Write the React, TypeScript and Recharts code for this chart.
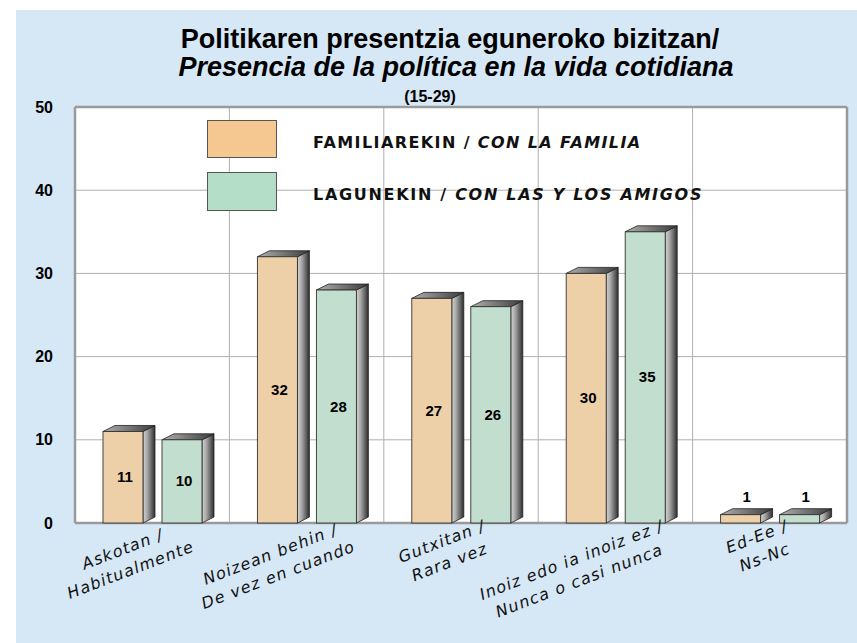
import React from "react";
import {
  BarChart,
  Bar,
  XAxis,
  YAxis,
  CartesianGrid,
  LabelList,
} from "recharts";

// categories (two lines each: Basque / Spanish)
const labelTop = ["Askotan /", "Noizean behin /", "Gutxitan /", "Inoiz edo ia inoiz ez /", "Ed-Ee /"];
const labelBottom = ["Habitualmente", "De vez en cuando", "Rara vez", "Nunca o casi nunca", "Ns-Nc"];
const familia = [11, 32, 27, 30, 1];
const lagunak = [10, 28, 26, 35, 1];
const yTicks = [0, 10, 20, 30, 40, 50];

const data = labelTop.map((t, i) => ({
  cat: t + " " + labelBottom[i],
  familia: familia[i],
  lagunak: lagunak[i],
}));

const DX = 12;
const DY = 6;
const LABEL_FONT = "italic 16px 'DejaVu Sans'";
const LABEL_SPACING = 1.2;

let ctx: CanvasRenderingContext2D | null = null;
function measure(s: string) {
  if (!ctx) ctx = document.createElement("canvas").getContext("2d");
  if (!ctx) return s.length * 9;
  ctx.font = LABEL_FONT;
  return ctx.measureText(s).width + s.length * LABEL_SPACING;
}

function Bar3D(props: any) {
  const { x, y, width, height, fill, index, dataKey } = props;
  if (width == null || height == null) return null;
  const id = `${dataKey}-${index}`;
  return (
    <g>
      <defs>
        <linearGradient id={`side-${id}`} x1="0" y1="0" x2="1" y2="0">
          <stop offset="0%" stopColor="#d4d4d4" />
          <stop offset="35%" stopColor="#a8a8a8" />
          <stop offset="100%" stopColor="#2e2e2e" />
        </linearGradient>
        <linearGradient id={`top-${id}`} x1="0" y1="0" x2="1" y2="0">
          <stop offset="0%" stopColor="#b0b0b0" />
          <stop offset="100%" stopColor="#3c3c3c" />
        </linearGradient>
      </defs>
      <polygon
        points={`${x + width},${y} ${x + width + DX},${y - DY} ${x + width + DX},${y + height - DY} ${x + width},${y + height}`}
        fill={`url(#side-${id})`}
        stroke="#222"
        strokeWidth={0.8}
      />
      <polygon
        points={`${x},${y} ${x + DX},${y - DY} ${x + width + DX},${y - DY} ${x + width},${y}`}
        fill={`url(#top-${id})`}
        stroke="#222"
        strokeWidth={0.8}
      />
      <rect x={x} y={y} width={width} height={height} fill={fill} stroke="#333" strokeWidth={0.9} />
    </g>
  );
}

function ValueLabel(props: any) {
  const { x, y, width, height, value } = props;
  if (value == null) return null;
  const inside = value >= 5;
  const tx = inside ? x + width / 2 + 2 : x + (width + DX) / 2;
  const ty = inside ? y + height / 2 + 5 : y - DY - 7;
  return (
    <text
      x={tx}
      y={ty}
      textAnchor="middle"
      fontFamily="'Liberation Sans', Arial, sans-serif"
      fontWeight="bold"
      fontSize={15}
      fill="#000"
    >
      {value}
    </text>
  );
}

function XTick(props: any) {
  const { x, y, payload } = props;
  const i = payload?.index ?? 0;
  const l1 = labelTop[i];
  const l2 = labelBottom[i];
  const w = Math.max(measure(l1), measure(l2));
  const ax = x + 0.23 * w;
  const ay = y - 4;
  const common = {
    textAnchor: "middle" as const,
    fontFamily: "'DejaVu Sans', sans-serif",
    fontStyle: "italic",
    fontSize: 16,
    letterSpacing: LABEL_SPACING,
    fill: "#111",
  };
  return (
    <g transform={`translate(${ax},${ay}) rotate(-21)`}>
      <text x={-w / 2} y={12} {...common}>{l1}</text>
      <text x={-w / 2} y={34} {...common}>{l2}</text>
    </g>
  );
}

const legendText: React.CSSProperties = {
  position: "absolute",
  left: 313,
  fontFamily: "'DejaVu Sans', sans-serif",
  fontWeight: "bold",
  fontSize: 16,
  lineHeight: "19px",
  letterSpacing: 1.4,
  color: "#111",
  whiteSpace: "nowrap",
};

export default function App() {
  return (
    <div
      style={{
        position: "absolute",
        left: 0,
        top: 0,
        width: 857,
        height: 643,
        background: "#fff",
        overflow: "hidden",
      }}
    >
      <div style={{ position: "absolute", left: 16, top: 10, width: 841, height: 633, background: "#d6e7f5" }} />

      {/* title */}
      <div
        style={{
          position: "absolute",
          left: 0,
          width: 900,
          top: 25,
          textAlign: "center",
          fontFamily: "'Liberation Sans', Arial, sans-serif",
          fontWeight: "bold",
          fontSize: 27,
          lineHeight: "28px",
          color: "#000",
        }}
      >
        <div>Politikaren presentzia eguneroko bizitzan/</div>
        <div style={{ fontStyle: "italic", marginLeft: 12 }}>Presencia de la política en la vida cotidiana</div>
      </div>
      <div
        style={{
          position: "absolute",
          left: 0,
          width: 860,
          top: 88,
          textAlign: "center",
          fontFamily: "'Liberation Sans', Arial, sans-serif",
          fontWeight: "bold",
          fontSize: 16,
          lineHeight: "18px",
          color: "#000",
        }}
      >
        (15-29)
      </div>

      <div style={{ position: "absolute", left: 0, top: 0 }}>
        <BarChart
          width={857}
          height={643}
          data={data}
          margin={{ top: 107, right: 10, bottom: 90, left: 15 }}
          barGap={19}
        >
          <CartesianGrid
            fill="#fff"
            stroke="#b0b0b0"
            strokeWidth={1}
            verticalCoordinatesGenerator={({ offset }: any) =>
              [1, 2, 3, 4].map((k) => offset.left + (k * offset.width) / 5)
            }
          />
          <CartesianGrid
            stroke="#9a9a9a"
            strokeWidth={2.5}
            horizontalCoordinatesGenerator={({ offset }: any) => [offset.top, offset.top + offset.height]}
            verticalCoordinatesGenerator={({ offset }: any) => [offset.left, offset.left + offset.width]}
          />
          <XAxis
            dataKey="cat"
            height={30}
            axisLine={false}
            tickLine={false}
            tickSize={0}
            tickMargin={0}
            interval={0}
            tick={<XTick />}
          />
          <YAxis
            width={60}
            domain={[0, 50]}
            ticks={yTicks}
            axisLine={false}
            tickLine={false}
            tickSize={0}
            tickMargin={22}
            tick={{
              fill: "#000",
              fontSize: 16,
              fontWeight: "bold",
              fontFamily: "'Liberation Sans', Arial, sans-serif",
            }}
          />
          <Bar dataKey="familia" barSize={40} fill="#eed0a8" shape={<Bar3D />} isAnimationActive={false}>
            <LabelList dataKey="familia" content={<ValueLabel />} />
          </Bar>
          <Bar dataKey="lagunak" barSize={40} fill="#c2dece" shape={<Bar3D />} isAnimationActive={false}>
            <LabelList dataKey="lagunak" content={<ValueLabel />} />
          </Bar>
        </BarChart>
      </div>

      {/* legend */}
      <div style={{ position: "absolute", left: 207, top: 120, width: 68, height: 36, background: "#f5c892", border: "1px solid #555" }} />
      <div style={{ position: "absolute", left: 207, top: 172, width: 68, height: 37, background: "#b5dec8", border: "1px solid #555" }} />
      <div style={{ ...legendText, top: 133 }}>
        FAMILIAREKIN / <i>CON LA FAMILIA</i>
      </div>
      <div style={{ ...legendText, top: 185, letterSpacing: 1.7 }}>
        LAGUNEKIN / <i>CON LAS Y LOS AMIGOS</i>
      </div>
    </div>
  );
}
